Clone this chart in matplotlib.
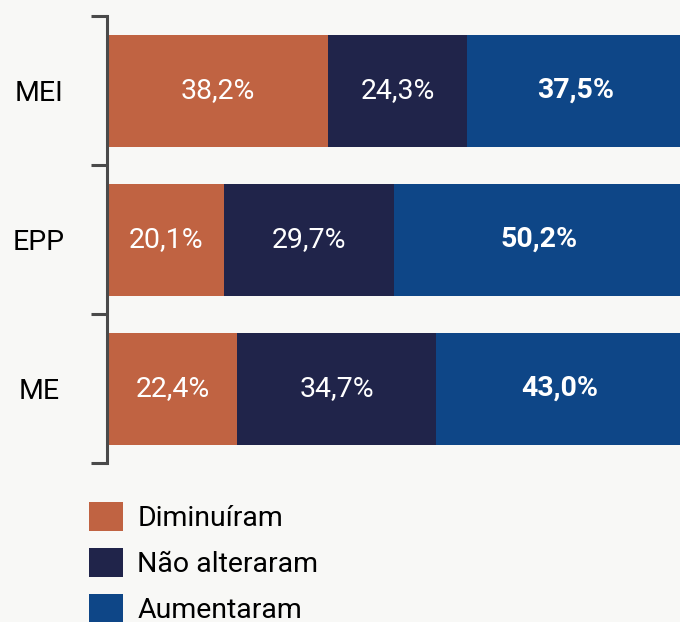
import matplotlib
matplotlib.use("Agg")
import matplotlib.pyplot as plt
from matplotlib.patches import Patch

categories = ["MEI", "EPP", "ME"]
series_names = ["Diminuíram", "Não alteraram", "Aumentaram"]
diminuiram = [38.2, 20.1, 22.4]
nao_alteraram = [24.3, 29.7, 34.7]
aumentaram = [37.5, 50.2, 43.0]
value_labels = [
    ["38,2%", "20,1%", "22,4%"],
    ["24,3%", "29,7%", "34,7%"],
    ["37,5%", "50,2%", "43,0%"],
]

colors = ["#C06342", "#20244A", "#0E4687"]
bg = "#F8F8F6"
plt.rcParams['font.family'] = ['Roboto', 'DejaVu Sans']
FS = 20.5

W, H = 680, 622
fig = plt.figure(figsize=(W / 100, H / 100), dpi=100, facecolor=bg)
ax_left, ax_right, ax_top, ax_bot = 107, 680, 16, 463
ax = fig.add_axes([ax_left / W, 1 - ax_bot / H, (ax_right - ax_left) / W, (ax_bot - ax_top) / H])
ax.set_facecolor(bg)

px = 100 / 575.0
ax.set_xlim(-px, (ax_right - ax_left) * px - px)
ax.set_ylim(2.5, -0.5)

ypos = list(range(len(categories)))
series = [diminuiram, nao_alteraram, aumentaram]
lefts = [0.0] * len(categories)
for si, vals in enumerate(series):
    ax.barh(ypos, vals, left=lefts, height=112 / 149, color=colors[si], linewidth=0)
    for i, v in enumerate(vals):
        ax.text(lefts[i] + v / 2, ypos[i], value_labels[si][i], color="white",
                ha="center", va="center", fontsize=FS,
                fontweight="bold" if si == 2 else "normal")
    lefts = [l + v for l, v in zip(lefts, vals)]

for s in ["top", "right", "bottom"]:
    ax.spines[s].set_visible(False)
ax.spines["left"].set_color("#4A4A4A")
ax.spines["left"].set_linewidth(2.2)
ax.set_xticks([])
ax.set_yticks(ypos)
ax.set_yticklabels(categories, fontsize=FS, ha="center")
ax.tick_params(axis="y", which="major", length=0, pad=49)
ax.set_yticks([-0.5, 0.5, 1.5, 2.5], minor=True)
ax.tick_params(axis="y", which="minor", length=11.5, width=2.2, color="#4A4A4A")

handles = [Patch(facecolor=c, edgecolor="none") for c in colors]
fig.legend(handles, series_names, loc="upper left",
           bbox_to_anchor=(89 / W, 1 - 502 / H), frameon=False, fontsize=FS,
           handlelength=1.2, handleheight=1.2, handletextpad=0.5,
           labelspacing=0.56, borderpad=0, borderaxespad=0)

fig.savefig("out.png", dpi=100, facecolor=bg)
